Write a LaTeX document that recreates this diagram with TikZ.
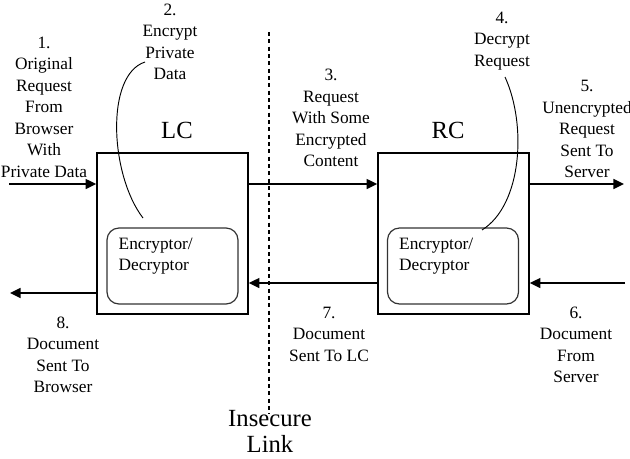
\documentclass[tikz,border=0pt]{standalone}
\usepackage{fontspec}
\setmainfont{Liberation Serif}
\usetikzlibrary{arrows.meta,positioning}

\begin{document}
\begin{tikzpicture}[x=0.75pt, y=-0.75pt,
  proxy/.style={draw, line width=1.2pt, minimum width=113.25pt, minimum height=120.75pt, inner sep=0pt},
  crypt/.style={draw=black!80, line width=0.9pt, rounded corners=9pt,
              minimum width=98.25pt, minimum height=57pt, inner sep=0pt},
  note/.style={align=center, font=\fontsize{13}{16.1}\selectfont, inner sep=1pt},
  ctext/.style={align=left, font=\fontsize{13}{16.1}\selectfont, inner sep=0pt},
  big/.style={align=center, font=\fontsize{18.5}{19.5}\selectfont, inner sep=0pt},
  flow/.style={-{Triangle[length=8pt,width=7.5pt]}, line width=1.2pt},
  hint/.style={line width=0.7pt},
  gap/.style={dashed, dash pattern=on 3pt off 2.5pt, line width=0.8pt}]
  \useasboundingbox (0,0) rectangle (630,458);

  % the two proxies
  \node[proxy] (lc) at (172.5,233.5) {};
  \node[proxy] (rc) at (453.5,233.5) {};
  \node[big] (lcl) at (177,130) {LC};
  \node[big] (rcl) at (448,130) {RC};
  \node[crypt] (lcx) at (172.5,266) {};
  \node[crypt] (rcx) at (453,266) {};
  \node[ctext, anchor=north west] (lct) at ([shift={(12,10)}]lcx.north west) {Encryptor/\\Decryptor};
  \node[ctext, anchor=north west] (rct) at ([shift={(12,10)}]rcx.north west) {Encryptor/\\Decryptor};

  % step labels
  \node[note] (s1) at (44,107) {1.\\Original\\Request\\From\\Browser\\With\\Private Data};
  \node[note] (s2) at (170,42) {2.\\Encrypt\\Private\\Data};
  \node[note] (s3) at (331,118) {3.\\Request\\With Some\\Encrypted\\Content};
  \node[note] (s4) at (502,41) {4.\\Decrypt\\Request};
  \node[note] (s5) at (587,129) {5.\\Unencrypted\\Request\\Sent To\\Server};
  \node[note] (s6) at (576,345) {6.\\Document\\From\\Server};
  \node[note] (s7) at (329,334) {7.\\Document\\Sent To LC};
  \node[note] (s8) at (63,355) {8.\\Document\\Sent To\\Browser};

  % insecure link
  \node[big] (ins) at (270,431) {Insecure\\Link};
  \coordinate (lnk) at (269,32);
  \draw[gap] (lnk) -- ([yshift=-3]lnk |- ins.north);

  % message flow
  \coordinate (in1) at (9,184);
  \coordinate (out5) at (624,184);
  \coordinate (in6) at (625,283);
  \coordinate (out8) at (10,293);
  \draw[flow] (in1) -- (in1 -| lc.west);
  \draw[flow] (lc.east |- in1) -- (rc.west |- in1);
  \draw[flow] (rc.east |- in1) -- (out5);
  \draw[flow] (in6) -- (in6 -| rc.east);
  \draw[flow] (rc.west |- in6) -- (lc.east |- in6);
  \draw[flow] (lc.west |- out8) -- (out8);

  % callouts
  \coordinate (c2a) at (145,62);
  \coordinate (c2b) at (143,218);
  \coordinate (c4a) at (505,77);
  \coordinate (c4b) at (482,230);
  \draw[hint] (c2a) .. controls (105,75) and (110,175) .. (c2b);
  \draw[hint] (c4a) .. controls (527,125) and (522,205) .. (c4b);
\end{tikzpicture}
\end{document}
